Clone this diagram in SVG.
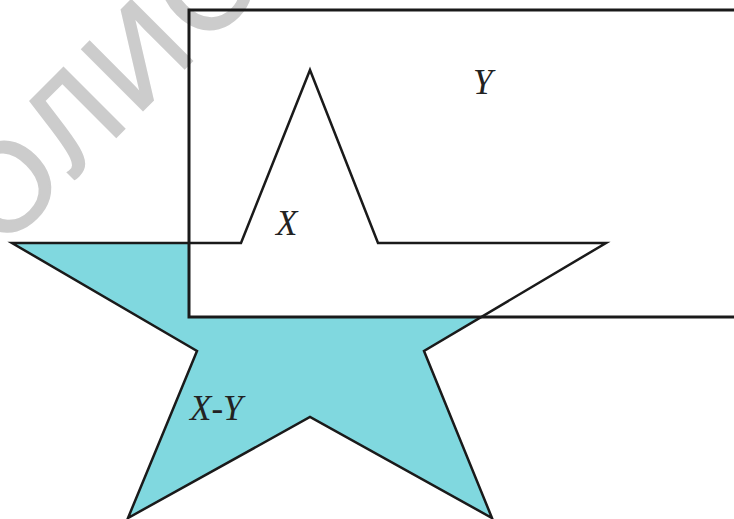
<svg xmlns="http://www.w3.org/2000/svg" width="734" height="519" viewBox="0 0 734 519">
  <style>
    .line { fill: none; stroke: #1a1a1a; stroke-linejoin: miter; }
    .lbl { font-family: "Liberation Serif", "Times New Roman", serif; font-style: italic; font-size: 35px; fill: #222; }
    .wm { font-family: "Liberation Sans", Arial, sans-serif; font-size: 125px; fill: #cccccc; stroke: #cccccc; stroke-width: 2; letter-spacing: 6px; }
  </style>
  <defs>
    <polygon id="starShape" points="310,70 378,243 606,243 424,351 492,518 310,417 128,518 197,351 12,243 241,243"/>
  </defs>
  <rect x="0" y="0" width="734" height="519" fill="#ffffff"/>
  <g id="star-fill">
    <use href="#starShape" fill="#80d8df"/>
  </g>
  <g id="Y-fill">
    <rect x="189" y="10" width="560" height="307" fill="#ffffff"/>
  </g>
  <g id="watermark">
    <text class="wm" transform="translate(1.5,251.5) rotate(-45)">ОЛИС</text>
  </g>
  <g id="X">
    <use href="#starShape" class="line" stroke-width="2.5"/>
  </g>
  <g id="Y">
    <rect x="189" y="10" width="560" height="307" class="line" stroke-width="3"/>
  </g>
  <g id="labels">
    <text class="lbl" x="473" y="94">Y</text>
    <text class="lbl" x="276" y="235">X</text>
    <text class="lbl" x="190" y="420">X-Y</text>
  </g>
</svg>
